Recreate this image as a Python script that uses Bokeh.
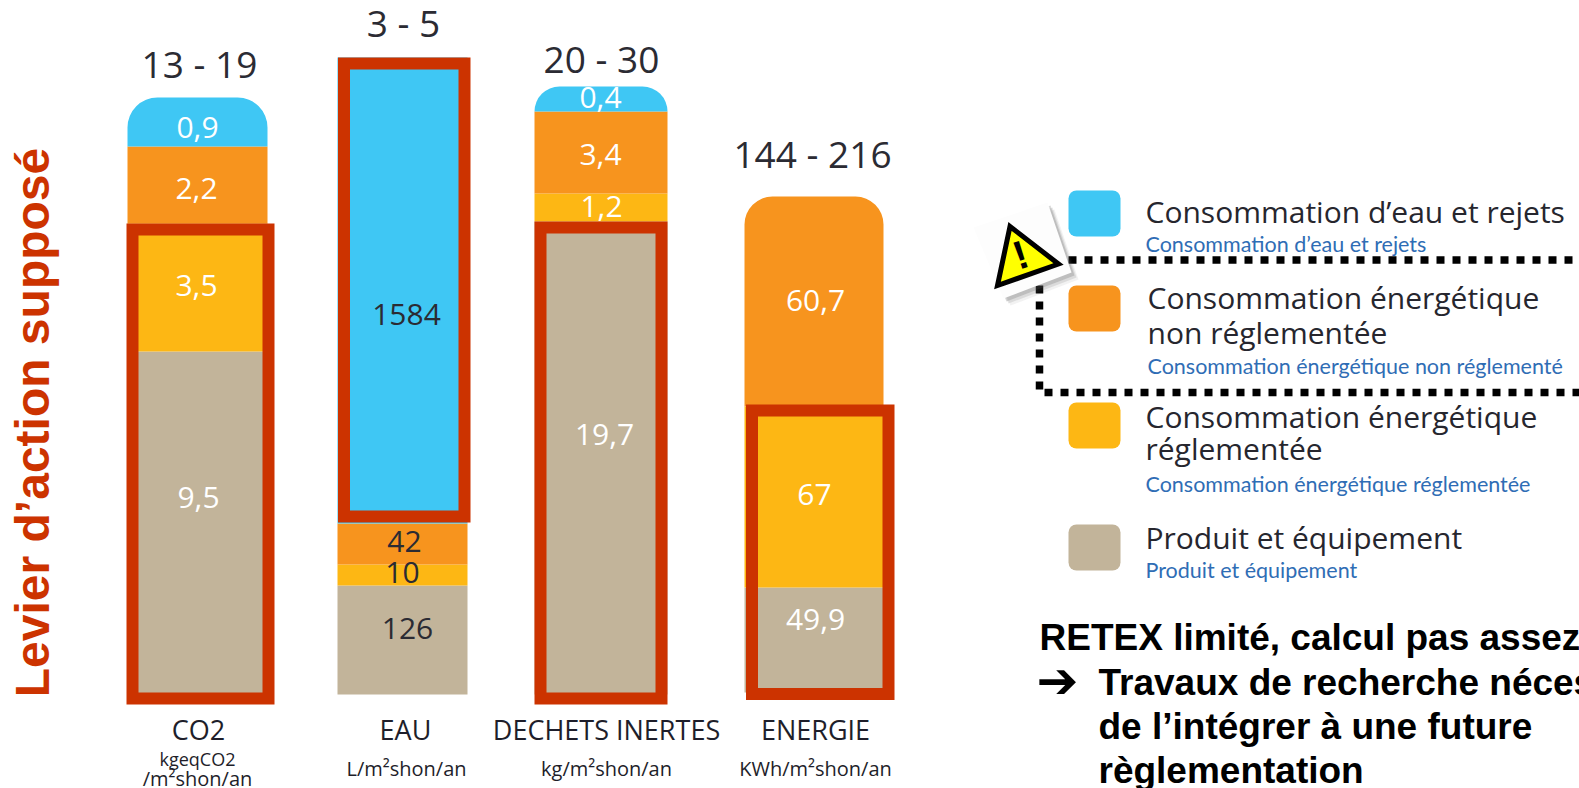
from bokeh.embed import file_html
from bokeh.resources import INLINE
from bokeh.plotting import figure
from bokeh.models import Range1d
from bokeh.core.properties import value

# --- data ---
categories = ["CO2", "EAU", "DECHETS INERTES", "ENERGIE"]
units = [["kgeqCO2", "/m²shon/an"], ["L/m²shon/an"], ["kg/m²shon/an"], ["KWh/m²shon/an"]]
ranges = ["13 - 19", "3 - 5", "20 - 30", "144 - 216"]
# labels printed in the segments
lab_product = ["9,5", "126", "19,7", "49,9"]
lab_regul = ["3,5", "10", "1,2", "67"]
lab_nonreg = ["2,2", "42", "3,4", "60,7"]
lab_water = ["0,9", "1584", "0,4", None]
# drawn height of each segment (the columns are not to a common scale)
h_product = [343, 109, 473, 105]
h_regul = [128, 21, 28, 181]
h_nonreg = [77, 41, 82, 210]
h_water = [49, 466, 25, 0]

C_PRODUCT, C_REGUL, C_NONREG, C_WATER = "#C2B49A", "#FDB714", "#F7941E", "#3FC7F4"
RED = "#CC3300"
W, H = 1579, 788
p = figure(width=W, height=H, output_backend="svg", toolbar_location=None,
           x_range=Range1d(0, W), y_range=Range1d(H, 0),
           min_border=0, outline_line_color=None, background_fill_color="white")
p.xaxis.visible = False
p.yaxis.visible = False
p.grid.visible = False

# column layout in page pixels
BASE = [694, 694, 694, 692]
LEFT = [127, 337, 534, 744]
RIGHT = [267, 467, 667, 883]
CAT_X = [198, 405, 606, 815]
UNIT_X = [197, 406, 606, 815]
RANGE_X = [199, 403, 601, 812]
RANGE_Y = [63, 22, 58, 153]
FRAME = [(132, 268, 229, 698), (343.5, 464, 63, 516), (540, 661, 227, 698), (751.5, 888, 410, 693.5)]


def seg(i, bottom, h, color, radius=0):
    y1 = bottom - h
    p.quad(left=LEFT[i], right=RIGHT[i], top=y1, bottom=bottom, fill_color=color, line_color=None,
           border_radius=radius)
    return y1


for i in range(4):
    y = BASE[i]
    y = seg(i, y, h_product[i], C_PRODUCT)
    y = seg(i, y, h_regul[i], C_REGUL)
    y = seg(i, y, h_nonreg[i], C_NONREG, (28, 28, 0, 0) if h_water[i] == 0 else 0)
    if h_water[i]:
        r = 0 if i == 1 else min(h_water[i], 30)
        y = seg(i, y, h_water[i], C_WATER, (r, r, 0, 0))

for (l, r, t, b) in FRAME:
    p.quad(left=l, right=r, top=t, bottom=b, fill_color=None, line_color=RED, line_width=12, line_join="miter")

NUM = value("Open Sans")
DARK = "#2B2B33"


def txt(x, y, s, size, color=DARK, font=NUM, style="normal", align="center", angle=0, base="middle"):
    p.text(x=[x], y=[y], text=[s], text_font=font, text_font_size=f"{size}px", text_color=color,
           text_align=align, text_baseline=base, text_font_style=style, angle=angle)


# segment labels: (x, y of digit centre) for product, regulated, non regulated, water
pos = [[(198, 497), (196, 285), (196, 188), (197, 127)],
       [(407, 628), (402, 572), (404, 541), (406, 314)],
       [(604, 434), (601, 206), (600, 154), (600, 97)],
       [(815, 619), (814, 494), (815, 300), None]]
colr = ["white", DARK, "white", "white"]
for i in range(4):
    for j, s in enumerate((lab_product[i], lab_regul[i], lab_nonreg[i], lab_water[i])):
        if s is not None:
            txt(pos[i][j][0], pos[i][j][1], s, 30, colr[i])

for i in range(4):
    txt(RANGE_X[i], RANGE_Y[i], ranges[i], 37)
    txt(CAT_X[i], 729, categories[i], 27, "#1E1E2A")
txt(UNIT_X[0], 758, units[0][0], 18, "#1E1E2A")
txt(UNIT_X[0], 778, units[0][1], 20, "#1E1E2A")
for i in (1, 2, 3):
    txt(UNIT_X[i], 768, units[i][0], 20, "#1E1E2A")

# rotated caption
LIB = value("Liberation Sans")
txt(32, 422, "Levier d’action supposé", 48, RED, LIB, "bold", angle=1.5708)

# legend
for t, b, c in [(190, 236, C_WATER), (285, 331, C_NONREG), (402, 448, C_REGUL), (524, 570, C_PRODUCT)]:
    p.quad(left=1068, right=1120, top=t, bottom=b, fill_color=c, line_color=None, border_radius=8)
SUB = value("Lato")
BL = "#2F6DB5"
for x, y, s in [(1145, 211, "Consommation d’eau et rejets"), (1147, 297, "Consommation énergétique"),
                (1147, 332, "non réglementée"), (1145, 416, "Consommation énergétique"),
                (1145, 448, "réglementée"), (1145, 537, "Produit et équipement")]:
    txt(x, y, s, 30, "#26262E", NUM, align="left")
for x, y, s in [(1145, 243, "Consommation d’eau et rejets"), (1147, 365, "Consommation énergétique non réglementé"),
                (1145, 483, "Consommation énergétique réglementée"), (1145, 569, "Produit et équipement")]:
    txt(x, y, s, 21.5, BL, SUB, align="left")

# dotted highlight box
p.line(x=[1068, 1580], y=[259.5, 259.5], line_color="black", line_width=7.5, line_dash="8 8")
p.line(x=[1039, 1039, 1580], y=[285, 392, 392], line_color="black", line_width=7.5, line_dash="8 8")

# warning sign
card_x, card_y = [973, 1047, 1071, 1003], [227, 202, 272, 298]
for off, a in [(7, 0.08), (5, 0.14), (3, 0.22)]:
    p.patch(x=[v + off for v in card_x], y=[v + off for v in card_y], fill_color="#555555", fill_alpha=a, line_color=None)
p.patch(x=card_x, y=card_y, fill_color="#FDFDFD", line_color=None)
p.patch(x=[1009.5, 1058, 997], y=[226, 263.5, 285], fill_color="#FFFF00", line_color="black", line_width=5, line_join="miter")
txt(1020, 254, "!", 40, "black", LIB, "bold", angle=0.33)

# text block
for x, y, s in [(1039, 637, "RETEX limité, calcul pas assez"), (1098, 682, "Travaux de recherche néces"),
                (1098, 726, "de l’intégrer à une future"), (1098, 770, "règlementation")]:
    txt(x, y, s, 37, "black", LIB, "bold", align="left")
txt(1036, 680, "➔", 50, "black", value("DejaVu Sans"), "bold", align="left")

open("out.html", "w").write(file_html(p, INLINE))
